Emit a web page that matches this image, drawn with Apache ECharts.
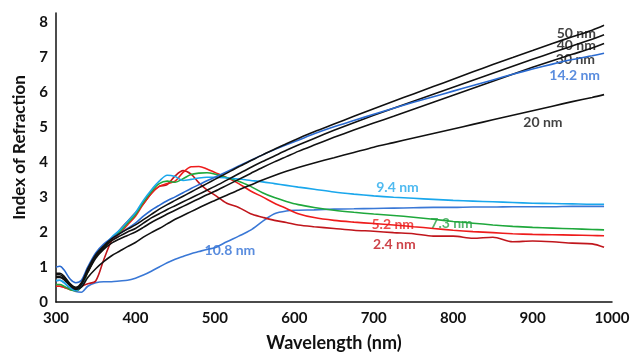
<!DOCTYPE html>
<html>
<head>
<meta charset="utf-8">
<script src="https://cdn.jsdelivr.net/npm/echarts@6/dist/echarts.min.js"></script>
<style>
  html, body { margin: 0; padding: 0; background: #fff; }
  #chart { width: 640px; height: 357px; }
</style>
</head>
<body>
<div id="chart"></div>
<script>
// wavelength grid (nm), shared by all curves
const wavelengths = [300, 305, 310, 318, 325, 332, 340, 350, 360, 370, 380, 390, 400, 410, 420, 430, 440, 450, 460, 470, 480, 490, 500, 515, 530, 545, 560, 575, 590, 605, 625, 650, 675, 700, 725, 750, 775, 800, 825, 850, 875, 900, 925, 950, 975, 990]

const n50 = [0.82, 0.82, 0.74, 0.52, 0.42, 0.55, 0.95, 1.35, 1.6, 1.8, 1.95, 2.08, 2.2, 2.35, 2.5, 2.65, 2.78, 2.9, 3.02, 3.14, 3.26, 3.38, 3.5, 3.68, 3.86, 4.03, 4.2, 4.36, 4.52, 4.67, 4.86, 5.08, 5.3, 5.52, 5.73, 5.94, 6.15, 6.36, 6.57, 6.78, 6.98, 7.18, 7.38, 7.57, 7.76, 7.9]
const n40 = [0.78, 0.78, 0.7, 0.5, 0.4, 0.52, 0.9, 1.3, 1.55, 1.75, 1.88, 2.0, 2.1, 2.25, 2.4, 2.52, 2.64, 2.75, 2.86, 2.97, 3.08, 3.19, 3.3, 3.48, 3.66, 3.84, 4.01, 4.17, 4.33, 4.48, 4.67, 4.9, 5.12, 5.33, 5.53, 5.73, 5.93, 6.13, 6.33, 6.53, 6.73, 6.93, 7.12, 7.31, 7.5, 7.63]
const n30 = [0.72, 0.72, 0.66, 0.48, 0.38, 0.5, 0.85, 1.25, 1.5, 1.68, 1.8, 1.9, 2.0, 2.13, 2.27, 2.39, 2.51, 2.62, 2.73, 2.84, 2.95, 3.06, 3.16, 3.33, 3.5, 3.67, 3.84, 4.0, 4.15, 4.3, 4.48, 4.7, 4.91, 5.11, 5.3, 5.5, 5.7, 5.9, 6.1, 6.3, 6.5, 6.7, 6.89, 7.07, 7.25, 7.38]
const n20 = [0.7, 0.7, 0.64, 0.46, 0.36, 0.42, 0.7, 0.95, 1.15, 1.32, 1.45, 1.58, 1.7, 1.85, 1.98, 2.1, 2.23, 2.36, 2.47, 2.58, 2.69, 2.8, 2.9, 3.05, 3.2, 3.34, 3.48, 3.61, 3.73, 3.84, 3.97, 4.12, 4.27, 4.42, 4.55, 4.68, 4.81, 4.94, 5.07, 5.2, 5.33, 5.46, 5.59, 5.72, 5.84, 5.92]
const n142 = [1.0, 1.02, 0.92, 0.65, 0.55, 0.62, 1.0, 1.4, 1.65, 1.82, 1.95, 2.1, 2.25, 2.45, 2.62, 2.76, 2.89, 3.0, 3.12, 3.24, 3.35, 3.46, 3.56, 3.72, 3.88, 4.04, 4.2, 4.35, 4.49, 4.62, 4.8, 5.0, 5.18, 5.36, 5.53, 5.7, 5.86, 6.02, 6.18, 6.34, 6.5, 6.65, 6.79, 6.92, 7.03, 7.1]
const n108 = [0.6, 0.62, 0.55, 0.38, 0.3, 0.28, 0.45, 0.55, 0.58, 0.58, 0.6, 0.62, 0.68, 0.77, 0.88, 1.0, 1.12, 1.22, 1.3, 1.38, 1.44, 1.5, 1.55, 1.72, 1.88, 2.05, 2.3, 2.52, 2.6, 2.62, 2.63, 2.65, 2.66, 2.67, 2.68, 2.69, 2.7, 2.7, 2.71, 2.71, 2.72, 2.72, 2.72, 2.73, 2.73, 2.73]
const n94 = [0.62, 0.62, 0.56, 0.4, 0.33, 0.45, 0.9, 1.35, 1.6, 1.85, 2.05, 2.3, 2.55, 2.9, 3.2, 3.45, 3.62, 3.58, 3.47, 3.5, 3.54, 3.56, 3.56, 3.54, 3.51, 3.47, 3.43, 3.38, 3.33, 3.28, 3.22, 3.14, 3.08, 3.03, 2.99, 2.96, 2.93, 2.9, 2.88, 2.86, 2.84, 2.82, 2.81, 2.8, 2.79, 2.79]
const n73 = [0.5, 0.5, 0.45, 0.35, 0.32, 0.45, 0.85, 1.3, 1.55, 1.8, 2.0, 2.25, 2.5, 2.85, 3.15, 3.38, 3.45, 3.42, 3.52, 3.64, 3.68, 3.69, 3.65, 3.55, 3.45, 3.3, 3.12, 2.98, 2.87, 2.78, 2.7, 2.62, 2.56, 2.51, 2.47, 2.42, 2.36, 2.3, 2.25, 2.2, 2.16, 2.13, 2.11, 2.09, 2.07, 2.06]
const n52 = [0.45, 0.45, 0.42, 0.35, 0.33, 0.45, 0.85, 1.3, 1.55, 1.75, 1.95, 2.2, 2.45, 2.8, 3.1, 3.3, 3.38, 3.45, 3.7, 3.86, 3.87, 3.8, 3.7, 3.55, 3.38, 3.17, 3.0, 2.82, 2.67, 2.52, 2.41, 2.33, 2.28, 2.24, 2.2, 2.15, 2.1, 2.05, 2.01, 1.98, 1.95, 1.93, 1.92, 1.91, 1.9, 1.89]
const n24 = [0.45, 0.45, 0.42, 0.38, 0.38, 0.45, 0.52, 0.6, 1.2, 1.75, 2.05, 2.3, 2.55, 2.8, 3.1, 3.3, 3.35, 3.6, 3.75, 3.65, 3.4, 3.2, 3.05, 2.82, 2.7, 2.52, 2.42, 2.33, 2.27, 2.2, 2.15, 2.1, 2.05, 2.02, 1.98, 1.95, 1.88, 1.88, 1.82, 1.85, 1.72, 1.74, 1.72, 1.68, 1.66, 1.56]

// label text and where it sits (nm, index)
const labelTexts = ['50 nm', '40 nm', '30 nm', '14.2 nm', '20 nm', '9.4 nm', '7.3 nm', '5.2 nm', '2.4 nm', '10.8 nm']
const labelX = [955, 955, 954, 953, 913, 730, 798, 724, 726, 519]
const labelY = [7.66, 7.32, 6.93, 6.48, 5.13, 3.27, 2.25, 2.2, 1.63, 1.46]
const labelColors = ['#111', '#111', '#111', '#2f6fd6', '#111', '#23a9ec', '#2ca34a', '#e82020', '#c0141c', '#2f6fd6']

const curves = [
  { name: '10.8 nm', values: n108, color: '#3a78d6' },
  { name: '2.4 nm', values: n24, color: '#c0161c' },
  { name: '5.2 nm', values: n52, color: '#ee1c1c' },
  { name: '7.3 nm', values: n73, color: '#1fa83c' },
  { name: '9.4 nm', values: n94, color: '#1aa7ec' },
  { name: '20 nm', values: n20, color: '#111' },
  { name: '30 nm', values: n30, color: '#111' },
  { name: '40 nm', values: n40, color: '#111' },
  { name: '14.2 nm', values: n142, color: '#2a6ad0' },
  { name: '50 nm', values: n50, color: '#111' },
]

const font = 'Lato, "Open Sans", sans-serif'

const chart = echarts.init(document.getElementById('chart'), null, { renderer: 'canvas' })

const series = curves.map(c => ({
  name: c.name,
  type: 'line',
  data: wavelengths.map((w, i) => [w, c.values[i]]),
  smooth: 0.3,
  showSymbol: false,
  lineStyle: { width: 1.6, color: c.color },
  itemStyle: { color: c.color },
  silent: true,
}))

series.push({
  type: 'scatter',
  symbolSize: 0,
  silent: true,
  data: labelTexts.map((t, i) => ({
    value: [labelX[i], labelY[i]],
    label: {
      show: true,
      position: 'inside',
      formatter: t,
      color: labelColors[i],
      fontFamily: font,
      fontWeight: 'bold',
      fontSize: 14,
    },
  })),
})

chart.setOption({
  animation: false,
  backgroundColor: '#fff',
  grid: { left: 56, right: 28, top: 13, bottom: 51 },
  xAxis: {
    type: 'value',
    min: 300,
    max: 1000,
    interval: 100,
    name: 'Wavelength (nm)',
    nameLocation: 'middle',
    nameGap: 32,
    nameTextStyle: { color: '#111', fontFamily: font, fontWeight: 'bold', fontSize: 18 },
    axisLine: { show: true, lineStyle: { color: '#111', width: 1.5 } },
    axisTick: { show: false },
    splitLine: { show: false },
    axisLabel: {
      color: '#111', fontFamily: font, fontWeight: 'bold', fontSize: 15, margin: 9,
      formatter: v => String(v),
    },
  },
  yAxis: {
    type: 'value',
    min: 0,
    max: 8.25,
    interval: 1,
    name: 'Index of Refraction',
    nameLocation: 'middle',
    nameGap: 25,
    nameTextStyle: { color: '#111', fontFamily: font, fontWeight: 'bold', fontSize: 17, padding: [0, 0, 0, 20] },
    axisLine: { show: true, lineStyle: { color: '#111', width: 1.5 } },
    axisTick: { show: false },
    splitLine: { show: false },
    axisLabel: {
      color: '#111', fontFamily: font, fontWeight: 'bold', fontSize: 15, margin: 8,
      formatter: v => (Number.isInteger(v) ? String(v) : ''),
    },
  },
  series,
})
</script>
</body>
</html>
